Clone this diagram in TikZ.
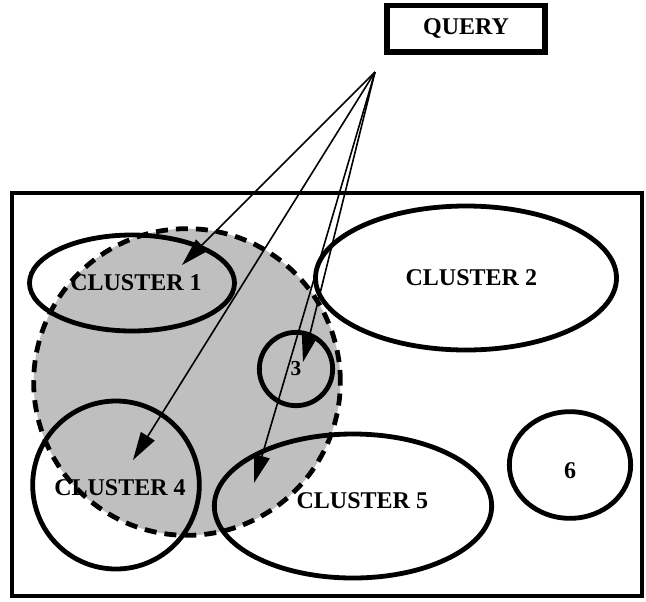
\documentclass[tikz,border=0pt]{standalone}
\usepackage{fontspec}
\setmainfont{Liberation Serif}
\usetikzlibrary{shapes.geometric,arrows.meta}

\begin{document}
\begin{tikzpicture}[x=0.75pt,y=-0.75pt,
    cnode/.style={draw,ellipse,line width=3.6pt,inner sep=0pt},
    every label/.style={font=\bfseries\fontsize{18}{20}\selectfont,inner sep=0pt},
    qnode/.style={draw,rectangle,line width=4pt,minimum width=118.5pt,minimum height=35pt,font=\bfseries\fontsize{18}{20}\selectfont},
    hit/.style={line width=1.2pt,-{Triangle[length=21pt,width=12pt]}}]
    \useasboundingbox (0,0) rectangle (646,601);

    % search range
    \node[circle,fill=black!25,draw,line width=3.6pt,dash pattern=on 9pt off 6pt,minimum size=230pt] (range) at (187,382) {};
    \draw[line width=3.6pt] (12,193) rectangle (642,596);

    \node[qnode] (q) at (466,28.5) {QUERY};
    \node[cnode,minimum width=153.75pt,minimum height=72pt,label={[xshift=3pt]center:CLUSTER 1}] (c1) at (132,283) {};
    \node[cnode,minimum width=225.75pt,minimum height=108pt,label={[xshift=4pt]center:CLUSTER 2}] (c2) at (466,278) {};
    \node[cnode,minimum width=55pt,minimum height=55pt,label={[font=\bfseries\fontsize{16}{18}\selectfont]center:3}] (c3) at (296,369) {};
    \node[cnode,minimum width=125pt,minimum height=126pt,label={[xshift=3pt,yshift=-2pt]center:CLUSTER 4}] (c4) at (116,485) {};
    \node[cnode,minimum width=208pt,minimum height=108pt,label={[xshift=7pt,yshift=4pt]center:CLUSTER 5}] (c5) at (353,506) {};
    \node[cnode,minimum width=91pt,minimum height=80pt,label={[yshift=-4pt]center:6}] (c6) at (570,465) {};

    \coordinate (src) at (375,72);
    \coordinate (t1) at (182,265);
    \coordinate (t3) at (303,362);
    \coordinate (t4) at (133,460);
    \coordinate (t5) at (254,483);

    \draw[hit] (src) -- (t1) ;
    \draw[hit] (src) -- (t3) ;
    \draw[hit] (src) -- (t4) ;
    \draw[hit] (src) -- (t5) ;
\end{tikzpicture}
\end{document}
